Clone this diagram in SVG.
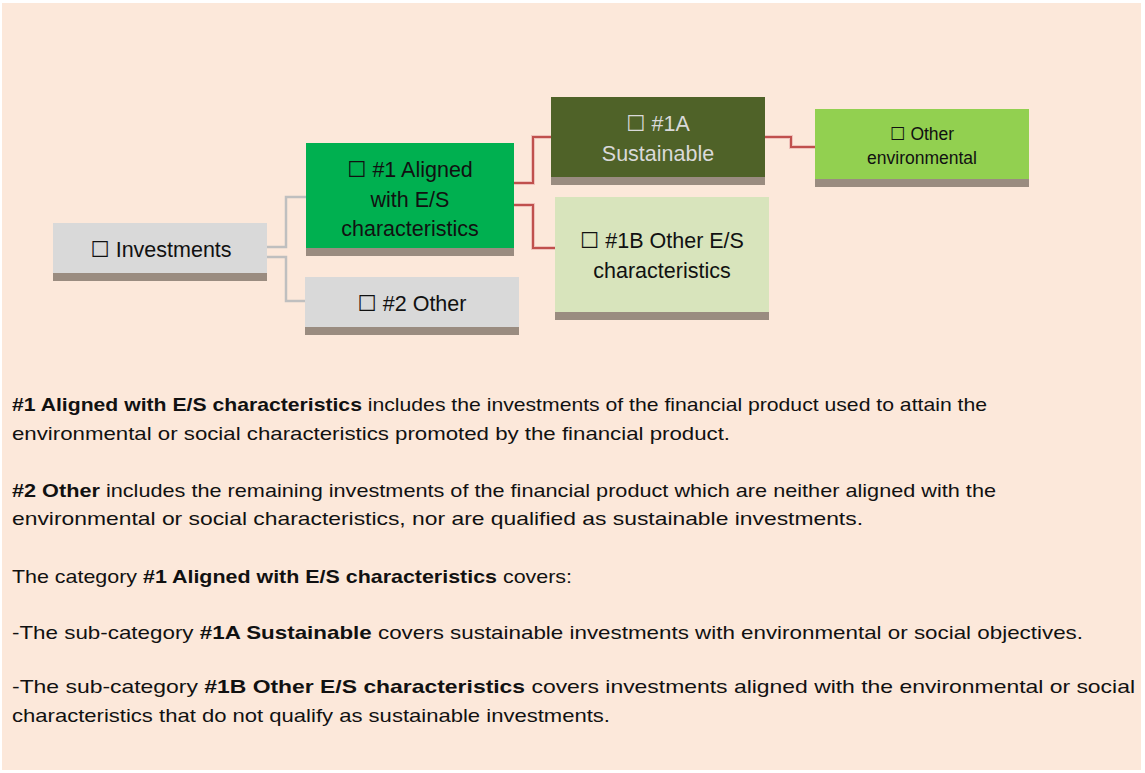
<svg xmlns="http://www.w3.org/2000/svg" width="1145" height="773" viewBox="0 0 1145 773">
<style>
.t{font-family:"Liberation Sans","DejaVu Sans",sans-serif;}
.n{font-size:21.5px;fill:#111;text-anchor:middle;}
.s{font-size:17.5px;fill:#111;text-anchor:middle;}
.p{font-size:18.5px;fill:#111;}
.b{font-weight:bold;}
.bar{fill:#9A8C80;}
.gc{fill:none;stroke:#BFBFBF;stroke-width:2.5;}
.rc{fill:none;stroke:#C0504D;stroke-width:2;}
.rh{fill:none;stroke:#E6A8A6;stroke-width:4;opacity:0.6;}
</style>
<rect x="0" y="0" width="1145" height="773" fill="#FFFFFF"/>
<rect x="2" y="3" width="1139" height="767" fill="#FCE8DA"/>
<g id="connectors">
<path class="gc" d="M267 247 H286 V197 H306"/>
<path class="gc" d="M267 257 H286 V301 H305"/>
<path class="rh" d="M514 183 H533 V137 H551"/>
<path class="rh" d="M514 205 H533 V248 H555"/>
<path class="rh" d="M765 137 H791 V147 H815"/>
<path class="rc" d="M514 183 H533 V137 H551"/>
<path class="rc" d="M512 205 H533 V248 H555"/>
<path class="rc" d="M765 137 H791 V147 H815"/>
</g>
<g id="investments">
<rect x="53" y="223" width="214" height="50" fill="#D9D9D9"/>
<rect class="bar" x="53" y="273" width="214" height="8"/>
<text class="t n" x="161" y="257">☐ Investments</text>
</g>
<g id="aligned">
<rect x="306" y="143" width="208" height="105" fill="#00B050"/>
<rect class="bar" x="306" y="248" width="208" height="8"/>
<text class="t n" x="410" y="177">☐ #1 Aligned</text>
<text class="t n" x="410" y="207">with E/S</text>
<text class="t n" x="410" y="236">characteristics</text>
</g>
<g id="other2">
<rect x="305" y="277" width="214" height="50" fill="#D9D9D9"/>
<rect class="bar" x="305" y="327" width="214" height="8"/>
<text class="t n" x="412" y="311">☐ #2 Other</text>
</g>
<g id="sustainable1a">
<rect x="551" y="97" width="214" height="80" fill="#4F6228"/>
<rect class="bar" x="551" y="177" width="214" height="8"/>
<text class="t n" x="658" y="131" style="fill:#D9D9D9">☐ #1A</text>
<text class="t n" x="658" y="161" style="fill:#D9D9D9">Sustainable</text>
</g>
<g id="otherenv">
<rect x="815" y="109" width="214" height="70" fill="#92D050"/>
<rect class="bar" x="815" y="179" width="214" height="8"/>
<text class="t s" x="922" y="140">☐ Other</text>
<text class="t s" x="922" y="164">environmental</text>
</g>
<g id="other1b">
<rect x="555" y="197" width="214" height="115" fill="#D8E4BC"/>
<rect class="bar" x="555" y="312" width="214" height="8"/>
<text class="t n" x="662" y="248">☐ #1B Other E/S</text>
<text class="t n" x="662" y="278">characteristics</text>
</g>
<g id="description">
<text class="t p" x="12" y="411" textLength="975" lengthAdjust="spacingAndGlyphs"><tspan class="b">#1 Aligned with E/S characteristics</tspan> includes the investments of the financial product used to attain the</text>
<text class="t p" x="12" y="440" textLength="718" lengthAdjust="spacingAndGlyphs">environmental or social characteristics promoted by the financial product.</text>
<text class="t p" x="12" y="497" textLength="984" lengthAdjust="spacingAndGlyphs"><tspan class="b">#2 Other</tspan> includes the remaining investments of the financial product which are neither aligned with the</text>
<text class="t p" x="12" y="525" textLength="851" lengthAdjust="spacingAndGlyphs">environmental or social characteristics, nor are qualified as sustainable investments.</text>
<text class="t p" x="12" y="583" textLength="560" lengthAdjust="spacingAndGlyphs">The category <tspan class="b">#1 Aligned with E/S characteristics</tspan> covers:</text>
<text class="t p" x="12" y="639" textLength="1071" lengthAdjust="spacingAndGlyphs">-The sub-category <tspan class="b">#1A Sustainable</tspan> covers sustainable investments with environmental or social objectives.</text>
<text class="t p" x="12" y="693" textLength="1123" lengthAdjust="spacingAndGlyphs">-The sub-category <tspan class="b">#1B Other E/S characteristics</tspan> covers investments aligned with the environmental or social</text>
<text class="t p" x="12" y="722" textLength="598" lengthAdjust="spacingAndGlyphs">characteristics that do not qualify as sustainable investments.</text>
</g>
</svg>
